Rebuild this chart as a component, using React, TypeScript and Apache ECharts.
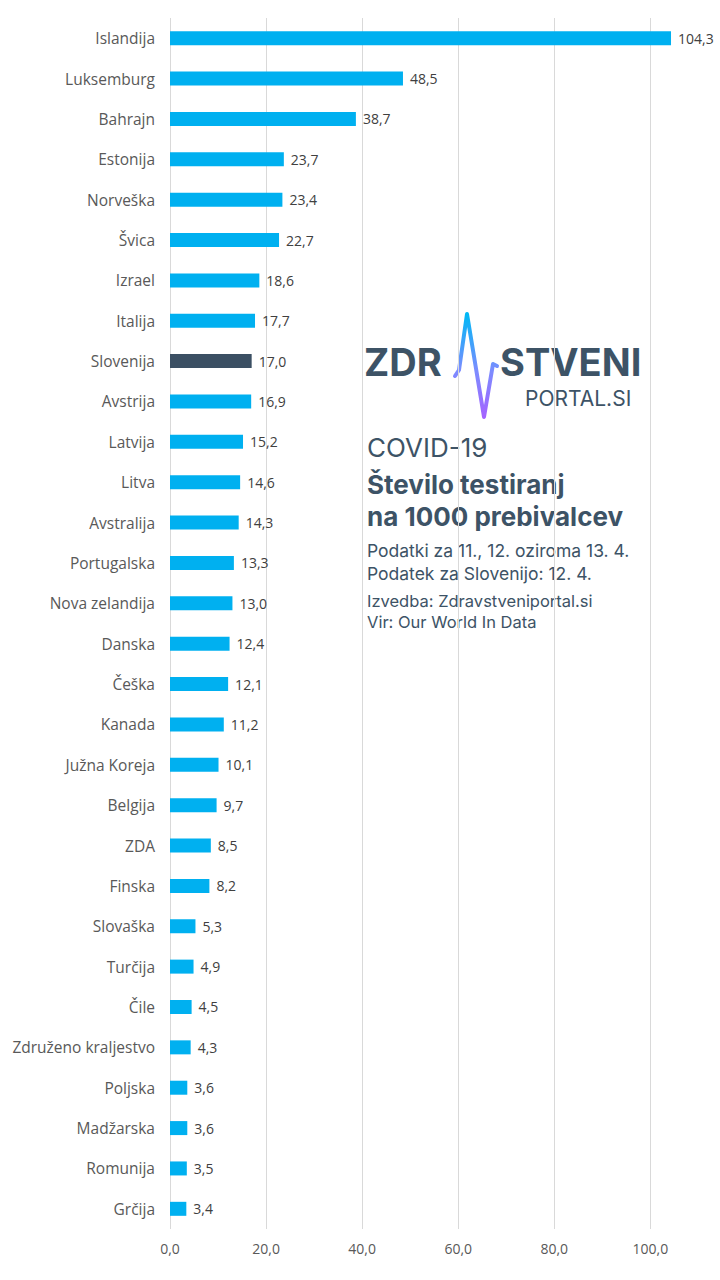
import React, { useEffect, useRef } from "react";
import * as echarts from "echarts";

const categories = [
  "Islandija", "Luksemburg", "Bahrajn", "Estonija", "Norveška", "Švica", "Izrael", "Italija",
  "Slovenija", "Avstrija", "Latvija", "Litva", "Avstralija", "Portugalska", "Nova zelandija",
  "Danska", "Češka", "Kanada", "Južna Koreja", "Belgija", "ZDA", "Finska", "Slovaška",
  "Turčija", "Čile", "Združeno kraljestvo", "Poljska", "Madžarska", "Romunija", "Grčija",
];
const values = [
  104.3, 48.5, 38.7, 23.7, 23.4, 22.7, 18.6, 17.7, 17.0, 16.9, 15.2, 14.6, 14.3, 13.3, 13.0,
  12.4, 12.1, 11.2, 10.1, 9.7, 8.5, 8.2, 5.3, 4.9, 4.5, 4.3, 3.6, 3.6, 3.5, 3.4,
];
const highlighted = "Slovenija";
const titleLines = ["COVID-19", "Število testiranj", "na 1000 prebivalcev"];
const noteLines = ["Podatki za 11., 12. oziroma 13. 4.", "Podatek za Slovenijo: 12. 4."];
const sourceLines = ["Izvedba: Zdravstveniportal.si", "Vir: Our World In Data"];

const BLUE = "#00b0f0";
const DARK = "#3b4f63";
const TXT = "#3d5366";
const FONT = "'Open Sans', 'Noto Sans', sans-serif";
const TFONT = "Inter, 'Open Sans', sans-serif";

export default function App() {
  const ref = useRef<HTMLDivElement>(null);
  useEffect(() => {
    document.body.style.margin = "0";
    const chart = echarts.init(ref.current!, null, { renderer: "svg" });
    const fmt = (v: number) => v.toFixed(1).replace(".", ",");
    const grey = "#d9d9d9";
    const txt = (x: number, y: number, text: string, font: string) => ({
      type: "text",
      x,
      y,
      style: { text, fill: TXT, font, verticalAlign: "middle" },
    });
    chart.setOption({
      animation: false,
      backgroundColor: "#ffffff",
      grid: { left: 170, right: 12, top: 18, bottom: 51, containLabel: false },
      xAxis: {
        type: "value",
        min: 0,
        max: 112,
        interval: 20,
        axisLine: { show: false },
        axisTick: { show: false },
        splitLine: {
          show: true,
          lineStyle: { color: [grey, grey, grey, grey, grey, grey, "rgba(0,0,0,0)"], width: 1 },
        },
        axisLabel: {
          formatter: (v: number) => (v % 20 === 0 ? fmt(v) : ""),
          color: "#595959",
          fontFamily: FONT,
          fontSize: 14,
          margin: 12,
        },
      },
      yAxis: {
        type: "category",
        inverse: true,
        data: categories,
        axisLine: { show: false },
        axisTick: { show: false },
        axisLabel: { color: "#595959", fontFamily: FONT, fontSize: 15.5, margin: 15 },
      },
      series: [
        {
          type: "bar",
          data: values.map((v, i) => ({
            value: v,
            itemStyle: { color: categories[i] === highlighted ? DARK : BLUE },
          })),
          barWidth: 14,
          label: {
            show: true,
            position: "right",
            distance: 7,
            formatter: (p: any) => fmt(p.value),
            color: "#404040",
            fontFamily: FONT,
            fontSize: 14,
          },
        },
      ],
      graphic: [
        txt(364, 362, "ZDR", `bold 38px ${TFONT}`),
        txt(500, 362, "STVENI", `bold 38px ${TFONT}`),
        txt(525, 398, "PORTAL.SI", `21px ${TFONT}`),
        {
          type: "polyline",
          shape: {
            points: [
              [455, 376], [459, 370], [467, 314], [484, 417], [493, 364], [497, 366],
            ],
          },
          style: {
            lineWidth: 4,
            lineCap: "round",
            lineJoin: "round",
            fill: "none",
            stroke: new echarts.graphic.LinearGradient(0, 0, 0, 1, [
              { offset: 0, color: "#00b8f5" },
              { offset: 0.55, color: "#7c8cff" },
              { offset: 1, color: "#a463ff" },
            ]),
          },
        },
        txt(367, 447, titleLines[0], `26px ${TFONT}`),
        txt(367, 484, titleLines[1], `bold 26px ${TFONT}`),
        txt(367, 516, titleLines[2], `bold 26px ${TFONT}`),
        txt(367, 550, noteLines[0], `17.5px ${TFONT}`),
        txt(367, 573, noteLines[1], `17.5px ${TFONT}`),
        txt(367, 601, sourceLines[0], `16.5px ${TFONT}`),
        txt(367, 622, sourceLines[1], `16.5px ${TFONT}`),
      ],
    });
    return () => chart.dispose();
  }, []);
  return <div ref={ref} style={{ width: 720, height: 1280 }} />;
}
